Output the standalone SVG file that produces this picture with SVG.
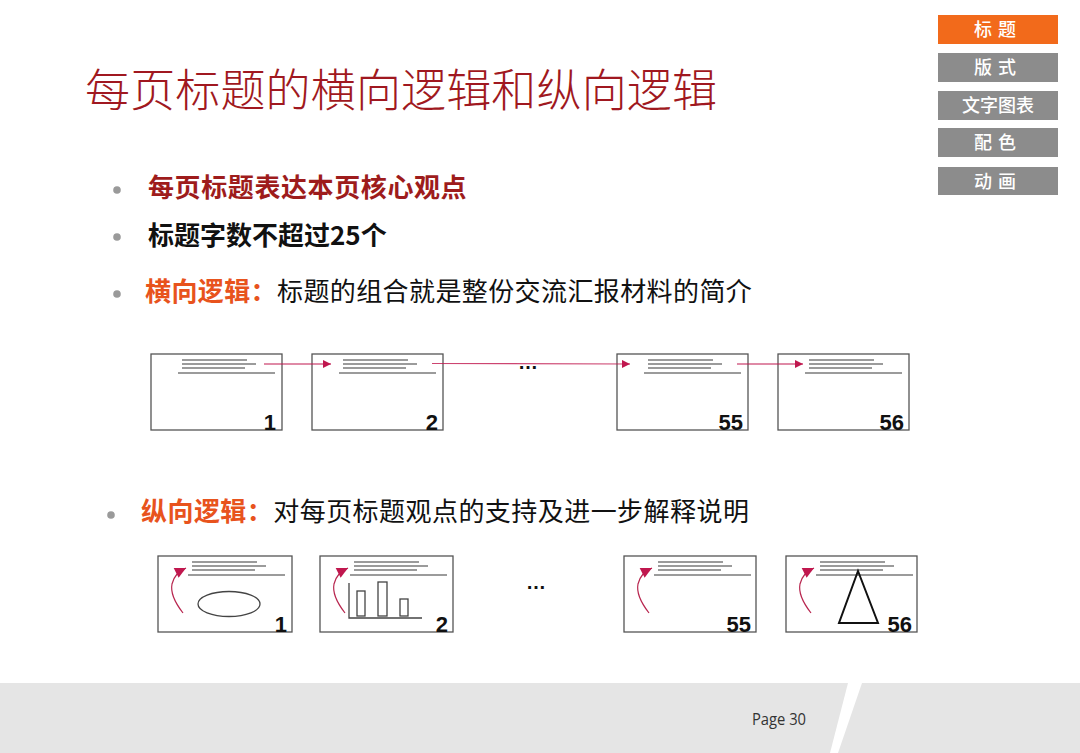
<svg xmlns="http://www.w3.org/2000/svg" width="1080" height="753" viewBox="0 0 1080 753">
<style>
.cjk{font-family:"Noto Sans CJK SC","Noto Sans",sans-serif}
.slide{fill:#fff;stroke:#555;stroke-width:1.3}
.tl{stroke:#7a7a7a;stroke-width:1.6}
.num{font-family:"Liberation Sans",Arial,sans-serif;font-weight:bold;font-size:22px;fill:#111;text-anchor:end}
.conn{stroke:#c0174e;stroke-width:1.2;fill:none}
.curve{stroke:#b8264f;stroke-width:1.2;fill:none}
.menu{fill:#8c8c8c}
.mtext{font-family:"Noto Sans CJK SC",sans-serif;font-size:18px;font-weight:500;fill:#fff;text-anchor:middle}
.bullet{fill:#9a9a9a}
.dots{font-family:"Liberation Sans",Arial,sans-serif;font-weight:bold;font-size:20px;fill:#111}
</style>
<defs>
<marker id="ah" viewBox="0 0 10 10" refX="10" refY="5" markerWidth="14" markerHeight="8" markerUnits="userSpaceOnUse" orient="auto">
<path d="M0,0 L10,5 L0,10 z" fill="#c0174e"/>
</marker>
<marker id="ah2" viewBox="0 0 10 10" refX="10" refY="5" markerWidth="13" markerHeight="11" markerUnits="userSpaceOnUse" orient="auto">
<path d="M0,0 L10,5 L0,10 z" fill="#c0174e"/>
</marker>
<g id="tlines">
<line class="tl" x1="31" y1="6" x2="96" y2="6"/>
<line class="tl" x1="31" y1="10" x2="105" y2="10"/>
<line class="tl" x1="31" y1="14" x2="94" y2="14"/>
<line class="tl" x1="27" y1="19" x2="124" y2="19"/>
</g>
<path id="vcurve" class="curve" d="M25,57 C18,48 12,38 14,28 C16,20 20,16 28,12" marker-end="url(#ah2)"/>
</defs>
<rect width="1080" height="753" fill="#fff"/>

<!-- footer -->
<g id="footer">
<polygon points="0,683 848,683 830,753 0,753" fill="#e5e5e5"/>
<polygon points="862,683 1080,683 1080,753 838,753" fill="#e5e5e5"/>
<text x="752" y="725" font-family="'Open Sans','Liberation Sans',sans-serif" font-size="16" fill="#333" textLength="54" lengthAdjust="spacingAndGlyphs">Page 30</text>
</g>

<!-- menu -->
<g id="menu">
<rect x="938" y="15" width="120" height="29" fill="#f26a1b"/>
<text class="mtext" x="998" y="36" letter-spacing="6">标题</text>
<rect class="menu" x="938" y="53" width="120" height="29"/>
<text class="mtext" x="998" y="74" letter-spacing="6">版式</text>
<rect class="menu" x="938" y="91" width="120" height="29"/>
<text class="mtext" x="998" y="112">文字图表</text>
<rect class="menu" x="938" y="128" width="120" height="29"/>
<text class="mtext" x="998" y="149" letter-spacing="6">配色</text>
<rect class="menu" x="938" y="167" width="120" height="28"/>
<text class="mtext" x="998" y="188" letter-spacing="6">动画</text>
</g>

<!-- title -->
<text id="title" class="cjk" x="85" y="107" font-size="45" font-weight="300" fill="#a01820" textLength="632">每页标题的横向逻辑和纵向逻辑</text>

<!-- bullets -->
<g id="bullets">
<circle class="bullet" cx="117" cy="190" r="3.8"/>
<text class="cjk" x="148" y="197" font-size="26" font-weight="bold" fill="#9e1c1c" letter-spacing="0.6">每页标题表达本页核心观点</text>
<circle class="bullet" cx="117" cy="237" r="3.8"/>
<text class="cjk" x="148" y="245" font-size="26" font-weight="bold" fill="#111">标题字数不超过25个</text>
<circle class="bullet" cx="117" cy="294" r="3.8"/>
<text class="cjk" x="145" y="301" font-size="26" fill="#111" letter-spacing="0.4"><tspan fill="#e8531d" font-weight="bold">横向逻辑：</tspan>标题的组合就是整份交流汇报材料的简介</text>
<circle class="bullet" cx="111" cy="515" r="3.8"/>
<text class="cjk" x="141" y="521" font-size="26" fill="#111" letter-spacing="0.45"><tspan fill="#e8531d" font-weight="bold">纵向逻辑：</tspan>对每页标题观点的支持及进一步解释说明</text>
</g>

<!-- row 1 -->
<g id="h1">
<rect class="slide" x="151" y="354" width="131" height="76"/>
<use href="#tlines" x="151" y="354"/>
<text class="num" x="276" y="430">1</text>
</g>
<g id="h2">
<rect class="slide" x="312" y="354" width="131" height="76"/>
<use href="#tlines" x="312" y="354"/>
<text class="num" x="438" y="430">2</text>
</g>
<g id="h55">
<rect class="slide" x="617" y="354" width="131" height="76"/>
<use href="#tlines" x="617" y="354"/>
<text class="num" x="743" y="430">55</text>
</g>
<g id="h56">
<rect class="slide" x="778" y="354" width="131" height="76"/>
<use href="#tlines" x="778" y="354"/>
<text class="num" x="904" y="430">56</text>
</g>
<text class="dots" x="518" y="369">…</text>

<g id="connectors">
<line class="conn" x1="264" y1="364" x2="331" y2="364" marker-end="url(#ah)"/>
<line class="conn" x1="432" y1="363.5" x2="630" y2="364" stroke-opacity="0.8" marker-end="url(#ah)"/>
<line class="conn" x1="737" y1="364" x2="803" y2="364" marker-end="url(#ah)"/>
</g>

<!-- row 2 -->
<g id="v1">
<rect class="slide" x="158" y="556" width="134" height="76"/>
<use href="#tlines" x="161" y="556"/>
<use href="#vcurve" x="158" y="556"/>
<ellipse cx="229" cy="604" rx="31" ry="12.5" fill="none" stroke="#444" stroke-width="1.3"/>
<text class="num" x="287" y="632">1</text>
</g>
<g id="v2">
<rect class="slide" x="320" y="556" width="133" height="76"/>
<use href="#tlines" x="323" y="556"/>
<use href="#vcurve" x="320" y="556"/>
<polyline points="349,583 349,618 422,618" fill="none" stroke="#444" stroke-width="1.3"/>
<rect x="357" y="591" width="8" height="25" fill="none" stroke="#444" stroke-width="1.3"/>
<rect x="378" y="582" width="9" height="34" fill="none" stroke="#444" stroke-width="1.3"/>
<rect x="400" y="599" width="8" height="17" fill="none" stroke="#444" stroke-width="1.3"/>
<text class="num" x="448" y="632">2</text>
</g>
<g id="v55">
<rect class="slide" x="624" y="556" width="132" height="76"/>
<use href="#tlines" x="627" y="556"/>
<use href="#vcurve" x="624" y="556"/>
<text class="num" x="751" y="632">55</text>
</g>
<g id="v56">
<rect class="slide" x="786" y="556" width="131" height="76"/>
<use href="#tlines" x="789" y="556"/>
<use href="#vcurve" x="786" y="556"/>
<polygon points="858,571 839,623 878,623" fill="none" stroke="#111" stroke-width="2"/>
<text class="num" x="912" y="632">56</text>
</g>
<text class="dots" x="526" y="589">…</text>
</svg>
